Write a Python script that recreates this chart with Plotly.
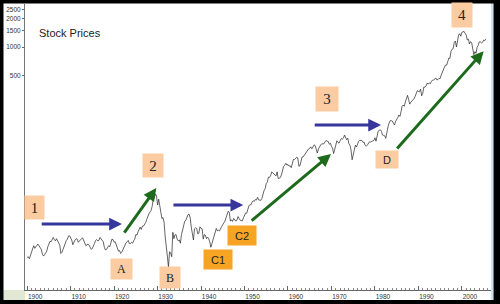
import numpy as np
import plotly.graph_objects as go

# Quarterly stock index levels (Jan, Apr, Jul, Oct), 1900 .. mid-2005
prices = [
    6.10, 6.20, 5.90, 6.40,   7.07, 7.80, 8.10, 7.60,   8.00, 8.20, 8.40, 8.10,
    7.80, 7.40, 6.60, 6.30,   6.50, 6.70, 7.10, 7.90,   8.50, 9.00, 8.90, 9.50,
    9.90, 9.40, 9.10, 9.60,   9.10, 8.40, 8.20, 6.70,   6.90, 7.40, 8.00, 8.60,
    9.20, 9.50, 10.20, 10.30, 9.90, 9.30, 8.30, 9.00,   9.30, 9.60, 9.50, 8.80,
    9.10, 9.50, 9.60, 9.80,   9.30, 8.60, 8.10, 8.30,   8.40, 8.20, 7.80, 7.40,
    7.60, 8.30, 8.60, 9.20,   9.40, 9.10, 9.20, 9.90,   9.60, 9.10, 8.90, 7.80,
    7.30, 7.40, 7.90, 8.10,   7.90, 8.60, 9.50, 9.40,   8.80, 8.90, 8.30, 7.90,
    7.10, 7.20, 6.70, 6.90,   7.30, 7.90, 8.30, 8.70,   8.90, 9.20, 8.50, 8.50,
    8.80, 8.60, 9.10, 9.50,   10.6, 10.5, 11.3, 12.2,   12.7, 12.0, 13.0, 13.0,
    13.4, 14.2, 15.3, 16.7,   17.5, 18.3, 19.0, 21.0,   24.9, 25.6, 28.5, 27.0,
    21.7, 25.0, 21.0, 17.9,   15.6, 16.0, 14.3, 10.0,   8.30, 6.30, 4.80, 7.00,
    6.80, 6.20, 11.2, 9.60,   10.5, 10.6, 9.50, 9.10,   9.30, 8.60, 10.6, 11.8,
    14.0, 14.7, 15.0, 16.4,   17.2, 17.4, 15.9, 12.7,   11.3, 9.30, 12.2, 12.5,
    12.3, 10.8, 11.0, 12.8,   12.3, 12.2, 9.50, 10.6,   10.4, 9.60, 10.0, 9.60,
    8.90, 7.80, 8.50, 9.20,   10.0, 11.4, 12.3, 11.6,   11.8, 11.6, 12.6, 12.9,
    13.5, 14.0, 14.7, 16.0,   18.0, 18.7, 18.1, 14.7,   15.2, 14.6, 15.7, 15.2,
    14.7, 15.0, 16.4, 15.7,   15.0, 14.9, 14.8, 15.9,   16.9, 17.9, 17.8, 19.9,
    21.2, 21.9, 21.9, 23.3,   24.1, 23.7, 24.8, 24.5,   26.2, 24.6, 24.2, 24.3,
    25.5, 28.3, 30.9, 32.3,   36.6, 37.9, 42.7, 42.4,   44.2, 48.4, 47.0, 46.0,
    45.4, 44.0, 48.5, 41.2,   41.7, 42.3, 45.2, 51.3,   55.6, 57.1, 59.7, 57.0,
    58.0, 55.7, 56.2, 53.7,   59.7, 65.8, 65.4, 68.0,   69.1, 68.0, 55.6, 56.2,
    65.1, 69.7, 69.8, 73.0,   76.5, 79.5, 83.2, 84.8,   86.1, 88.8, 84.9, 91.4,
    93.3, 91.6, 85.8, 76.6,   84.4, 90.2, 93.0, 95.7,   95.0, 95.7, 100.0, 103.8,
    102.0, 101.3, 94.7, 97.1, 90.3, 86.0, 75.6, 84.4,   93.5, 103.0, 99.0, 97.3,
    103.3, 108.8, 107.2, 109.6, 118.4, 110.3, 105.8, 109.8, 96.1, 92.5, 82.8, 65.0,
    72.6, 83.8, 92.5, 88.6,   96.9, 101.9, 104.2, 103.9, 103.8, 99.0, 99.9, 92.3,
    90.3, 92.7, 97.2, 100.7,  99.7, 102.1, 102.7, 103.7, 110.9, 102.1, 119.8, 130.2,
    132.9, 134.4, 129.1, 118.3, 117.3, 116.4, 109.4, 133.7, 144.3, 157.7, 167.6, 167.7,
    166.4, 157.6, 151.1, 165.0, 171.6, 180.6, 192.5, 186.2, 208.2, 238.0, 245.0, 237.4,
    264.5, 292.7, 310.1, 280.2, 250.5, 262.6, 269.1, 276.0, 285.4, 302.3, 331.9, 347.4,
    340.0, 338.2, 360.0, 307.1, 325.5, 379.0, 378.3, 387.2, 416.1, 407.4, 418.7, 411.0,
    435.2, 448.7, 448.1, 464.0, 473.0, 450.9, 453.7, 468.7, 465.3, 507.9, 548.0, 579.7,
    614.4, 645.5, 644.1, 703.2, 766.2, 759.6, 903.0, 947.3, 963.4, 1122.0, 1156.6, 1000.0,
    1248.8, 1335.5, 1380.9, 1300.0, 1425.6, 1461.4, 1462.0, 1390.1, 1335.6, 1185.8, 1211.2, 1076.6,
    1140.2, 1111.6, 909.9, 830.0, 895.8, 858.5, 993.7, 1038.7, 1132.5, 1134.4, 1105.8, 1118.1,
    1181.4, 1164.4, 1220.0,
]
years = [1900 + i / 4 for i in range(len(prices))]

y_ticks = [500, 1000, 1500, 2000, 2500]
x_ticks = [1900, 1910, 1920, 1930, 1940, 1950, 1960, 1970, 1980, 1990, 2000]

# Labelled boxes: (text, year, value, width, height, colour, font)
PEACH = "#FBCCA2"
ORANGE = "#F7A424"
SERIF = "Liberation Serif, Times New Roman, serif"
SANS = "Liberation Sans, Arial, sans-serif"
boxes = [
    ("1", 1901.7, 20.4, 19, 23, PEACH, SERIF, 15),
    ("2", 1929.0, 56.6, 20, 23, PEACH, SERIF, 15),
    ("3", 1969.0, 283.0, 22, 24, PEACH, SERIF, 15),
    ("4", 2000.0, 2170.0, 20, 24, PEACH, SERIF, 15),
    ("A", 1921.7, 4.6, 21, 20, PEACH, SERIF, 12),
    ("B", 1932.9, 3.75, 20, 21, PEACH, SERIF, 12),
    ("C1", 1943.9, 5.8, 28, 19, ORANGE, SANS, 11),
    ("C2", 1949.4, 10.4, 28, 19, ORANGE, SANS, 11),
    ("D", 1982.8, 65.4, 22, 17, PEACH, SANS, 11),
]

BLUE = "#36369C"
GREEN = "#1D6A1D"
# Arrows: (tail year, tail value, head year, head value, colour)
arrows = [
    (1903.0, 13.7, 1921.8, 13.7, BLUE),
    (1922.1, 10.75, 1929.7, 32.8, GREEN),
    (1933.3, 21.7, 1949.7, 21.7, BLUE),
    (1951.3, 14.4, 1969.9, 74.8, GREEN),
    (1965.8, 151.0, 1981.4, 151.0, BLUE),
    (1984.8, 82.4, 2005.0, 905.0, GREEN),
]

W, H = 500, 304
ML, MR, MT, MB = 25, 9, 4, 14
PW, PH = W - ML - MR, H - MT - MB


def px(xp):
    return (xp - ML) / PW


def py(yp):
    return (H - MB - yp) / PH


fig = go.Figure()
fig.add_trace(go.Scatter(x=years, y=prices, mode="lines",
                         line=dict(color="#222222", width=0.7),
                         hoverinfo="skip", showlegend=False))

anns = []
for t0, v0, t1, v1, c in arrows:
    anns.append(dict(x=t1, y=np.log10(v1), ax=t0, ay=np.log10(v0),
                     xref="x", yref="y", axref="x", ayref="y",
                     showarrow=True, arrowhead=2, arrowsize=0.85,
                     arrowwidth=3, arrowcolor=c, text=""))
for txt, t, v, w, h, col, fam, fs in boxes:
    anns.append(dict(x=t, y=np.log10(v), xref="x", yref="y", text=txt,
                     showarrow=False, width=w, height=h, bgcolor=col,
                     borderpad=0, font=dict(family=fam, size=fs, color="#222222"),
                     xanchor="center", yanchor="middle", valign="middle"))
anns.append(dict(x=px(37), y=py(33), xref="paper", yref="paper",
                 text="Stock Prices", showarrow=False, xanchor="left",
                 yanchor="middle",
                 font=dict(family=SANS, size=11, color="#222222")))

shapes = [
    # light green corner cell
    dict(type="rect", xref="paper", yref="paper", x0=px(3), x1=px(25),
         y0=py(300), y1=py(290), fillcolor="#E2E7D3", line_width=0, layer="below"),
    # light blue inner line on right
    dict(type="line", xref="paper", yref="paper", x0=px(492), x1=px(492),
         y0=py(3), y1=py(300), line=dict(color="#9DC3E6", width=1)),
    # black frame
    dict(type="rect", xref="paper", yref="paper", x0=px(0), x1=px(3.5),
         y0=py(304), y1=py(0), fillcolor="black", line_width=0),
    dict(type="rect", xref="paper", yref="paper", x0=px(0), x1=px(500),
         y0=py(3.5), y1=py(0), fillcolor="black", line_width=0),
    dict(type="rect", xref="paper", yref="paper", x0=px(493.5), x1=px(500),
         y0=py(304), y1=py(0), fillcolor="black", line_width=0),
    dict(type="rect", xref="paper", yref="paper", x0=px(0), x1=px(500),
         y0=py(304), y1=py(300), fillcolor="black", line_width=0),
]

fig.update_layout(
    width=W, height=H, margin=dict(l=ML, r=MR, t=MT, b=MB),
    paper_bgcolor="white", plot_bgcolor="white",
    annotations=anns, shapes=shapes, showlegend=False,
    xaxis=dict(range=[1899.5, 2006.7], tickvals=x_ticks,
               ticktext=[str(v) for v in x_ticks], showgrid=False,
               zeroline=False, showline=True, linecolor="#666666", linewidth=1,
               ticks="inside", ticklen=4, tickcolor="#666666",
               minor=dict(dtick=1, ticks="inside", ticklen=2, tickcolor="#888888"),
               tickfont=dict(family=SANS, size=6.5, color="#333333"),
               ticklabelshift=8, ticklabelstandoff=0),
    yaxis=dict(type="log", range=[0.442, 3.453], tickvals=y_ticks,
               ticktext=[str(v) for v in y_ticks], showgrid=False,
               zeroline=False, showline=True, linecolor="#777777", linewidth=1,
               ticks="outside", ticklen=2, tickcolor="#666666",
               tickfont=dict(family=SANS, size=6.5, color="#333333")),
)

fig.write_html("out.html")
